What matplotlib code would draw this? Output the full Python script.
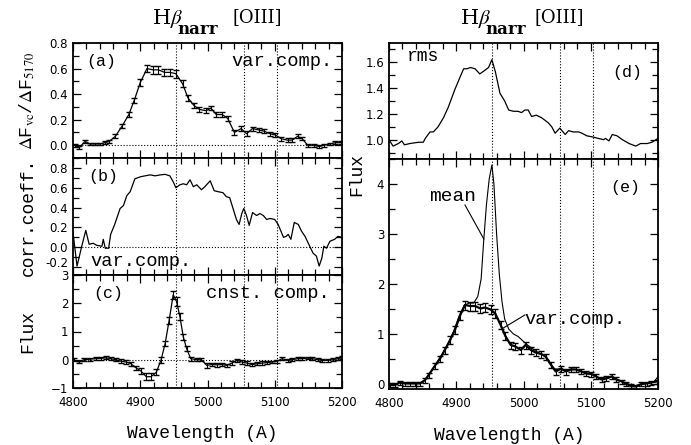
import matplotlib
matplotlib.use("Agg")
import matplotlib.pyplot as plt
from matplotlib.ticker import MultipleLocator

# ---- panel (a): variable component, dF_vc / dF_5170 ----
wave_a = [4803, 4809, 4818, 4825, 4832, 4840, 4847, 4854, 4863, 4873,
          4883, 4891, 4900, 4910, 4919, 4927, 4936, 4944, 4953, 4963,
          4971, 4980, 4988, 4998, 5005, 5013, 5022, 5030, 5040, 5050,
          5058, 5067, 5076, 5084, 5093, 5101, 5110, 5119, 5126, 5134,
          5141, 5149, 5158, 5166, 5173, 5182, 5190, 5198]
flux_a = [0.00, -0.02, 0.03, 0.01, 0.01, 0.01, 0.02, 0.03, 0.07, 0.15,
          0.24, 0.35, 0.49, 0.60, 0.59, 0.59, 0.57, 0.57, 0.56, 0.48,
          0.37, 0.31, 0.28, 0.27, 0.29, 0.24, 0.24, 0.21, 0.10, 0.13,
          0.09, 0.13, 0.12, 0.11, 0.09, 0.08, 0.05, 0.04, 0.04, 0.07,
          0.05, 0.00, 0.00, -0.01, 0.00, 0.01, 0.02, 0.02]
err_a = [0.012, 0.012, 0.012, 0.010, 0.010, 0.010, 0.010, 0.012, 0.015, 0.018,
         0.020, 0.022, 0.025, 0.028, 0.030, 0.030, 0.028, 0.028, 0.030, 0.028,
         0.022, 0.020, 0.018, 0.018, 0.018, 0.018, 0.018, 0.018, 0.020, 0.020,
         0.020, 0.016, 0.016, 0.015, 0.015, 0.015, 0.015, 0.015, 0.015, 0.015,
         0.012, 0.012, 0.010, 0.010, 0.010, 0.010, 0.010, 0.010]

# ---- panel (b): correlation coefficient ----
wave_b = [4800, 4806, 4813, 4819, 4824, 4830, 4835, 4843, 4845, 4848,
          4853, 4856, 4862, 4870, 4875, 4880, 4885, 4892, 4900, 4907,
          4915, 4922, 4930, 4937, 4944, 4949, 4953, 4959, 4964, 4969,
          4974, 4979, 4984, 4991, 4996, 5004, 5010, 5016, 5023, 5028,
          5033, 5038, 5043, 5047, 5051, 5054, 5058, 5062, 5067, 5073,
          5078, 5083, 5088, 5093, 5100, 5105, 5113, 5117, 5120, 5124,
          5129, 5135, 5140, 5145, 5152, 5157, 5162, 5166, 5170, 5173,
          5177, 5182, 5189, 5194, 5200]
corr_b = [0.15, -0.19, 0.01, 0.17, 0.03, 0.04, 0.02, 0.01, 0.08, -0.01,
          -0.01, 0.13, 0.23, 0.39, 0.42, 0.52, 0.56, 0.69, 0.71, 0.72,
          0.73, 0.72, 0.73, 0.735, 0.72, 0.66, 0.60, 0.63, 0.64, 0.63,
          0.68, 0.61, 0.63, 0.58, 0.61, 0.67, 0.57, 0.56, 0.55, 0.51,
          0.50, 0.39, 0.28, 0.23, 0.34, 0.39, 0.32, 0.22, 0.35, 0.32,
          0.34, 0.32, 0.28, 0.29, 0.28, 0.23, 0.10, 0.11, 0.13, 0.08,
          0.25, 0.23, 0.16, 0.11, 0.01, -0.06, -0.09, -0.19, -0.11, 0.01,
          -0.01, 0.06, 0.08, 0.11, 0.10]

# ---- panel (c): constant component ----
wave_c = [4801, 4809, 4816, 4825, 4834, 4841, 4849, 4856, 4864, 4871,
          4879, 4886, 4894, 4901, 4909, 4916, 4924, 4931, 4937, 4943,
          4949, 4954, 4959, 4964, 4969, 4975, 4984, 4991, 4999, 5006,
          5014, 5021, 5029, 5036, 5044, 5051, 5059, 5066, 5074, 5081,
          5089, 5096, 5104, 5111, 5119, 5126, 5134, 5141, 5149, 5156,
          5164, 5171, 5179, 5186, 5194, 5200]
flux_c = [0.00, -0.08, 0.00, 0.02, 0.04, 0.05, 0.07, 0.04, 0.00, -0.05,
          -0.08, -0.14, -0.29, -0.40, -0.60, -0.60, -0.44, 0.00, 0.57, 1.40,
          2.30, 2.06, 1.52, 0.81, 0.39, 0.04, 0.00, 0.00, -0.20, -0.17,
          -0.18, -0.17, -0.20, -0.12, -0.02, -0.08, -0.12, -0.17, -0.14, -0.12,
          -0.10, -0.08, -0.05, 0.04, -0.02, 0.00, 0.04, 0.04, 0.06, 0.04,
          0.00, -0.02, -0.02, 0.00, 0.04, 0.07]
err_c = [0.05, 0.05, 0.05, 0.05, 0.05, 0.05, 0.05, 0.05, 0.06, 0.06,
         0.06, 0.07, 0.08, 0.10, 0.12, 0.12, 0.10, 0.10, 0.10, 0.12,
         0.15, 0.15, 0.12, 0.10, 0.08, 0.07, 0.06, 0.06, 0.08, 0.06,
         0.06, 0.06, 0.06, 0.06, 0.06, 0.06, 0.06, 0.06, 0.06, 0.06,
         0.05, 0.05, 0.05, 0.05, 0.05, 0.05, 0.05, 0.05, 0.05, 0.05,
         0.05, 0.05, 0.05, 0.05, 0.05, 0.05]

# ---- panel (d): rms spectrum ----
wave_d = [4800, 4806, 4814, 4819, 4823, 4831, 4844, 4851, 4854, 4861,
          4866, 4873, 4881, 4888, 4898, 4906, 4911, 4916, 4921, 4928,
          4935, 4943, 4948, 4953, 4958, 4965, 4972, 4978, 4985, 4992,
          4997, 5002, 5007, 5012, 5019, 5027, 5037, 5042, 5047, 5054,
          5062, 5067, 5074, 5082, 5087, 5094, 5104, 5111, 5119, 5122,
          5127, 5132, 5139, 5147, 5157, 5167, 5174, 5184, 5191, 5200]
rms_d = [1.00, 0.95, 0.97, 0.99, 0.96, 0.97, 0.98, 0.98, 1.01, 1.06,
         1.06, 1.10, 1.17, 1.25, 1.39, 1.49, 1.55, 1.55, 1.56, 1.55,
         1.51, 1.54, 1.56, 1.62, 1.53, 1.36, 1.30, 1.23, 1.22, 1.22,
         1.21, 1.23, 1.23, 1.18, 1.19, 1.17, 1.13, 1.10, 1.05, 1.09,
         1.04, 1.07, 1.06, 1.06, 1.05, 1.03, 1.02, 1.01, 1.00, 1.01,
         0.99, 1.04, 1.03, 1.00, 0.97, 0.95, 0.97, 0.97, 0.98, 1.01]

# ---- panel (e): mean spectrum and variable component ----
wave_m = [4800, 4808, 4816, 4824, 4832, 4840, 4848, 4856, 4864, 4872,
          4880, 4888, 4896, 4904, 4912, 4920, 4926, 4932, 4937, 4941,
          4945, 4949, 4953, 4956, 4960, 4964, 4968, 4972, 4978, 4985,
          4992, 5000, 5006, 5014, 5022, 5030, 5038, 5046, 5054, 5062,
          5070, 5078, 5086, 5094, 5102, 5110, 5118, 5126, 5132, 5140,
          5148, 5156, 5164, 5170, 5178, 5186, 5194, 5200]
mean_e = [0.00, -0.01, 0.03, 0.02, 0.02, 0.02, 0.03, 0.12, 0.28, 0.45,
          0.62, 0.82, 1.05, 1.35, 1.58, 1.62, 1.62, 1.75, 2.10, 2.90,
          3.60, 4.10, 4.38, 4.00, 3.00, 2.20, 1.65, 1.30, 1.10, 1.00,
          0.95, 0.85, 0.78, 0.70, 0.63, 0.58, 0.45, 0.30, 0.30, 0.27,
          0.30, 0.29, 0.25, 0.22, 0.20, 0.14, 0.10, 0.12, 0.15, 0.09,
          0.04, 0.00, -0.04, -0.02, 0.01, 0.02, 0.04, 0.15]
wave_e = [4802, 4809, 4816, 4824, 4831, 4839, 4846, 4853, 4859, 4868,
          4876, 4883, 4891, 4898, 4906, 4913, 4921, 4928, 4936, 4943,
          4951, 4958, 4966, 4973, 4981, 4988, 4996, 5003, 5011, 5018,
          5026, 5033, 5041, 5048, 5056, 5063, 5071, 5078, 5086, 5093,
          5101, 5108, 5116, 5123, 5131, 5138, 5146, 5153, 5160, 5168,
          5175, 5183, 5190, 5198]
var_e = [-0.02, -0.02, 0.03, 0.01, 0.01, 0.01, 0.01, 0.07, 0.18, 0.36,
         0.51, 0.68, 0.88, 1.08, 1.38, 1.58, 1.56, 1.56, 1.51, 1.53,
         1.49, 1.41, 1.18, 0.96, 0.78, 0.75, 0.68, 0.78, 0.68, 0.63,
         0.60, 0.55, 0.38, 0.25, 0.31, 0.25, 0.29, 0.29, 0.25, 0.21,
         0.20, 0.15, 0.09, 0.11, 0.15, 0.09, 0.05, 0.00, -0.04, -0.05,
         0.00, 0.01, 0.03, 0.05]
err_e = [0.04, 0.04, 0.04, 0.04, 0.04, 0.04, 0.04, 0.05, 0.05, 0.06,
         0.06, 0.07, 0.08, 0.08, 0.09, 0.09, 0.09, 0.09, 0.09, 0.09,
         0.09, 0.09, 0.08, 0.08, 0.07, 0.07, 0.07, 0.07, 0.07, 0.07,
         0.07, 0.06, 0.06, 0.06, 0.06, 0.06, 0.05, 0.05, 0.05, 0.05,
         0.05, 0.05, 0.05, 0.05, 0.05, 0.05, 0.04, 0.04, 0.04, 0.04,
         0.04, 0.04, 0.04, 0.04]

lines = [4953, 5055, 5103]  # Hb narrow, [OIII] positions

plt.rcParams['font.family'] = 'DejaVu Sans'
plt.rcParams['font.size'] = 8.5
plt.rcParams['mathtext.fontset'] = 'stix'
plt.rcParams['axes.linewidth'] = 1.3
TXT = 'Liberation Mono'

fig = plt.figure(figsize=(6.91, 4.45), dpi=100)

W, H = 691.0, 445.0
def box(x0, x1, ytop, ybot):
    return [x0 / W, 1 - ybot / H, (x1 - x0) / W, (ybot - ytop) / H]

ax_a = fig.add_axes(box(73, 342, 43, 158))
ax_b = fig.add_axes(box(73, 342, 158, 275))
ax_c = fig.add_axes(box(73, 342, 275, 388))
ax_d = fig.add_axes(box(389, 658, 43, 159))
ax_e = fig.add_axes(box(389, 658, 159, 389))

def style(ax, ymaj, ymin, xlabels):
    ax.set_xlim(4800, 5200)
    ax.xaxis.set_major_locator(MultipleLocator(100))
    ax.xaxis.set_minor_locator(MultipleLocator(20))
    ax.yaxis.set_major_locator(MultipleLocator(ymaj))
    ax.yaxis.set_minor_locator(MultipleLocator(ymin))
    ax.tick_params(which='both', direction='in', top=True, right=True, width=0.9)
    ax.tick_params(which='major', length=6)
    ax.tick_params(which='minor', length=4)
    ax.tick_params(axis='x', pad=6)
    if not xlabels:
        ax.tick_params(labelbottom=False)
    for x in lines:
        ax.axvline(x, color='k', ls=':', lw=0.8)

# (a)
ax_a.errorbar(wave_a, flux_a, yerr=err_a, color='k', lw=0.9, elinewidth=0.8, capsize=2)
ax_a.axhline(0, color='k', ls=':', lw=0.8)
ax_a.set_ylim(-0.1, 0.8)
style(ax_a, 0.2, 0.1, False)
ax_a.yaxis.set_major_formatter(plt.FormatStrFormatter('%.1f'))
ax_a.text(0.051, 0.835, '(a)', transform=ax_a.transAxes, family=TXT, fontsize=12, va='center')
ax_a.text(0.967, 0.843, 'var.comp.', transform=ax_a.transAxes, family=TXT, fontsize=13.5,
          va='center', ha='right')
ax_a.set_ylabel(r'$\Delta$F$_{\rm vc}$/$\Delta$F$_{5170}$', family=TXT, fontsize=13)
ax_a.yaxis.set_label_coords(-0.135, 0.5)

# (b)
ax_b.plot(wave_b, corr_b, color='k', lw=0.9)
ax_b.axhline(0, color='k', ls=':', lw=0.8)
ax_b.set_ylim(-0.28, 0.9)
style(ax_b, 0.2, 0.1, False)
ax_b.set_yticks([-0.2, 0.0, 0.2, 0.4, 0.6, 0.8])
ax_b.yaxis.set_major_formatter(plt.FormatStrFormatter('%.1f'))
ax_b.yaxis.get_major_ticks()[0].label1.set_verticalalignment('baseline')
ax_b.text(0.056, 0.842, '(b)', transform=ax_b.transAxes, family=TXT, fontsize=12, va='center')
ax_b.text(0.063, 0.114, 'var.comp.', transform=ax_b.transAxes, family=TXT, fontsize=13.5,
          va='center')
ax_b.set_ylabel('corr.coeff.', family=TXT, fontsize=13)
ax_b.yaxis.set_label_coords(-0.135, 0.5)

# (c)
ax_c.errorbar(wave_c, flux_c, yerr=err_c, color='k', lw=0.9, elinewidth=0.8, capsize=2)
ax_c.axhline(0, color='k', ls=':', lw=0.8)
ax_c.set_ylim(-1, 3)
style(ax_c, 1, 0.5, True)
ax_c.text(0.074, 0.835, '(c)', transform=ax_c.transAxes, family=TXT, fontsize=12, va='center')
ax_c.text(0.955, 0.835, 'cnst. comp.', transform=ax_c.transAxes, family=TXT, fontsize=13.5,
          va='center', ha='right')
ax_c.set_ylabel('Flux', family=TXT, fontsize=13)
ax_c.yaxis.set_label_coords(-0.135, 0.5)

# (d)
ax_d.plot(wave_d, rms_d, color='k', lw=0.9)
ax_d.set_ylim(0.85, 1.75)
style(ax_d, 0.2, 0.1, False)
ax_d.set_yticks([1.0, 1.2, 1.4, 1.6])
ax_d.yaxis.set_major_formatter(plt.FormatStrFormatter('%.1f'))
ax_d.text(0.066, 0.88, 'rms', transform=ax_d.transAxes, family=TXT, fontsize=13, va='center')
ax_d.text(0.94, 0.75, '(d)', transform=ax_d.transAxes, family=TXT, fontsize=12,
          va='center', ha='right')

# (e)
ax_e.plot(wave_m, mean_e, color='k', lw=0.8)
ax_e.errorbar(wave_e, var_e, yerr=err_e, color='k', lw=1.6, elinewidth=0.8, capsize=2)
ax_e.set_ylim(-0.1, 4.5)
style(ax_e, 1, 0.5, True)
ax_e.text(0.933, 0.874, '(e)', transform=ax_e.transAxes, family=TXT, fontsize=12,
          va='center', ha='right')
ax_e.text(4860, 3.75, 'mean', family=TXT, fontsize=14, va='center')
ax_e.plot([4913, 4941], [3.58, 2.9], color='k', lw=0.8)
ax_e.text(5002, 1.28, 'var.comp.', family=TXT, fontsize=13.5, va='center')
ax_e.plot([5002, 4970], [1.38, 1.12], color='k', lw=0.8)

# shared labels
fig.text(357 / W, 1 - 174 / H, 'Flux', family=TXT, fontsize=13, rotation=90,
         ha='center', va='center')
fig.text(202 / W, 1 - 433 / H, 'Wavelength (A)', family=TXT, fontsize=13,
         ha='center', va='center')
fig.text(509 / W, 1 - 435 / H, 'Wavelength (A)', family=TXT, fontsize=13,
         ha='center', va='center')

# line identifications above the top panels (pixel positions from the reference)
for xh, xn, xo in [(152, 177, 233), (460, 485, 534)]:
    fig.text(xh / W, 1 - 18 / H, r'H$\beta$', fontsize=15, ha='left', va='center',
             family='DejaVu Serif', math_fontfamily='stix')
    fig.text(xn / W, 1 - 29 / H, 'narr', fontsize=12, fontweight='bold', ha='left',
             va='center', family='DejaVu Serif')
    fig.text(xo / W, 1 - 17 / H, '[OIII]', fontsize=13, ha='left', va='center',
             family='DejaVu Serif')

fig.savefig('out.png', dpi=100)
